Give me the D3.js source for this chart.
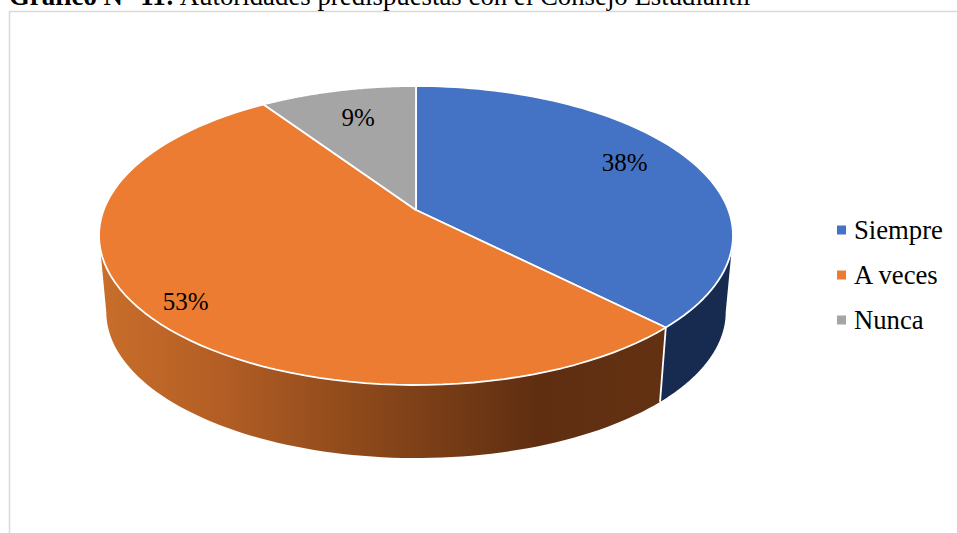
<!DOCTYPE html>
<html><head><meta charset="utf-8">
<script src="https://cdn.jsdelivr.net/npm/d3@7"></script>
<style>html,body{margin:0;padding:0;background:#fff;overflow:hidden}svg{display:block}text{font-family:"Liberation Serif","Times New Roman",serif;fill:#000}</style>
</head><body><svg id="c" width="957" height="533"></svg>
<script>
const categories = ["Siempre", "A veces", "Nunca"];
const values = [37.6, 53, 9.4];
const colors = ["#4472c4", "#eb7c31", "#a5a5a5"];
const wallFill = ["#172b50", "url(#wallOrange)", "#666"];
const titleBold = "Gráfico N° 11:";
const titleRest = " Autoridades predispuestas con el Consejo Estudiantil";

const W = 957, H = 533;
const svg = d3.select("#c");

// Perspective mapping of the pie's unit disc on to the screen
const cx = 416, apexY = 210, topY = 86, botY = 385, halfW = 317;
const p = (apexY*2 - topY - botY) / (topY - botY);
const B = botY*(1-p) - apexY;
const A = halfW*Math.sqrt(1-p*p);
const ellCy = (topY+botY)/2;
function project(a, r=1){
  const x = Math.sin(a)*r, y = -Math.cos(a)*r, w = 1-p*y;
  return [cx + A*x/w, (B*y+apexY)/w];
}
// Lower rim of the disc
const k = 0.977, lowCy = 312;
const lower = ([X,Y]) => [cx+(X-cx)*k, lowCy+(Y-ellCy)*k];

const arcs = d3.pie().sort(null).value(d=>d)(values);
const line = d3.line();
const samples = (a0,a1,n=80)=>d3.range(n+1).map(i=>a0+(a1-a0)*i/n);

// Frame
svg.append("path").attr("d","M9.5,533V11.5H957").attr("fill","none").attr("stroke","#d9d9d9").attr("stroke-width",1.5);

// Title (cut by the top edge in the original)
const title = svg.append("text").attr("x",9).attr("y",4.5).attr("font-size",26.8);
title.append("tspan").attr("font-weight","bold").text(titleBold);
title.append("tspan").text(titleRest);

// Wall gradient
const g = svg.append("defs").append("linearGradient").attr("id","wallOrange")
  .attr("gradientUnits","userSpaceOnUse").attr("x1",100).attr("x2",660).attr("y1",0).attr("y2",0);
[[0,"#c96e2b"],[0.2,"#b55f25"],[0.45,"#8f4a1b"],[0.78,"#5f2e11"],[1,"#633112"]]
  .forEach(([o,c])=>g.append("stop").attr("offset",o).attr("stop-color",c));

// Front wall of each slice, between the two silhouette angles
const sil = Math.acos(-p);
arcs.forEach((d,i)=>{
  const a0 = Math.max(d.startAngle, sil), a1 = Math.min(d.endAngle, 2*Math.PI-sil);
  if(a1<=a0) return;
  const top = samples(a0,a1).map(a=>project(a));
  const low = samples(a0,a1).map(a=>lower(project(a))).reverse();
  svg.append("path").attr("d",line(top.concat(low))+"Z").attr("fill",wallFill[i]);
});
// White seam between the walls
const seam = arcs[0].endAngle;
svg.append("path").attr("d",line([project(seam),lower(project(seam))]))
  .attr("stroke","#fff").attr("stroke-width",1.8).attr("fill","none");

// Top face
arcs.forEach((d,i)=>{
  const pts = samples(d.startAngle,d.endAngle).map(a=>project(a));
  svg.append("path").attr("d",line([[cx,apexY],...pts])+"Z")
    .attr("fill",colors[i]).attr("stroke","#fff").attr("stroke-width",1.8).attr("stroke-linejoin","round");
});

// Data labels
const labelShift = [[2,-8],[2,3],[3,0]];
const labelR = [0.75,0.87,0.75];
const fmt = v=>d3.format(".0f")(v)+"%";
arcs.forEach((d,i)=>{
  const [x,y] = project((d.startAngle+d.endAngle)/2, labelR[i]);
  svg.append("text").attr("x",x+labelShift[i][0]).attr("y",y+labelShift[i][1]+8.5)
    .attr("text-anchor","middle").attr("font-size",25).text(fmt(d.value));
});

// Legend
const legY = d3.scalePoint().domain(categories).range([230,320]);
const leg = svg.selectAll("g.leg").data(categories).join("g").attr("class","leg")
  .attr("transform",d=>`translate(0,${legY(d)})`);
leg.append("rect").attr("x",837).attr("y",-4.5).attr("width",9).attr("height",9).attr("fill",(d,i)=>colors[i]);
leg.append("text").attr("x",854).attr("y",8.5).attr("font-size",26.7).text(d=>d);
</script></body></html>
